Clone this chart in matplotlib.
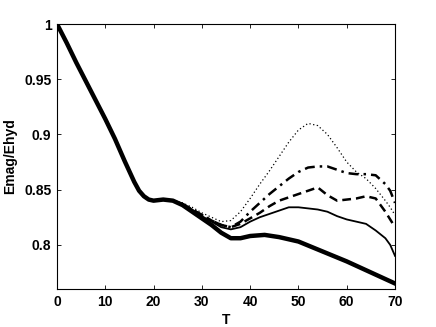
import numpy as np
import matplotlib
matplotlib.use("Agg")
import matplotlib.pyplot as plt

plt.rcParams['font.family'] = ['Liberation Sans', 'DejaVu Sans']
plt.rcParams['font.weight'] = 'bold'

# partie commune (toutes les courbes confondues avant T~25)
t_common = [0, 2, 4, 6, 8, 10, 12, 14, 16, 17, 18, 19, 20, 22, 24]
e_common = [1.0, 0.983, 0.965, 0.948, 0.931, 0.914, 0.896, 0.876, 0.857, 0.849,
            0.844, 0.841, 0.840, 0.841, 0.840]

# courbe epaisse
t_thick = [26, 28, 30, 32, 34, 36, 38, 40, 43, 46, 50, 55, 60, 65, 70]
e_thick = [0.836, 0.830, 0.824, 0.818, 0.811, 0.806, 0.806, 0.808, 0.809, 0.807,
           0.803, 0.794, 0.785, 0.775, 0.765]

t_tail = [26, 28, 30, 32, 34, 36, 38, 40, 42, 44, 46, 48, 50, 52, 54, 56, 58,
          60, 62, 64, 66, 68, 69, 70]
e_solid = [0.837, 0.832, 0.826, 0.821, 0.816, 0.814, 0.816, 0.821, 0.825, 0.828,
           0.831, 0.834, 0.834, 0.833, 0.832, 0.830, 0.826, 0.823, 0.821, 0.819,
           0.813, 0.806, 0.800, 0.790]
e_dashed = [0.837, 0.832, 0.827, 0.822, 0.818, 0.816, 0.819, 0.824, 0.829, 0.835,
            0.840, 0.843, 0.846, 0.849, 0.852, 0.845, 0.840, 0.841, 0.842, 0.844,
            0.842, 0.830, 0.823, 0.816]
e_dashdot = [0.837, 0.832, 0.827, 0.822, 0.818, 0.816, 0.821, 0.830, 0.838, 0.846,
             0.853, 0.860, 0.866, 0.870, 0.871, 0.871, 0.868, 0.865, 0.864, 0.864,
             0.863, 0.855, 0.849, 0.838]
e_dotted = [0.838, 0.834, 0.829, 0.825, 0.821, 0.822, 0.830, 0.842, 0.855, 0.867,
            0.880, 0.893, 0.904, 0.910, 0.908, 0.900, 0.888, 0.875, 0.866, 0.860,
            0.851, 0.840, 0.834, 0.827]

fig = plt.figure(figsize=(4.36, 3.27), dpi=100)
ax = fig.add_axes([0.1307, 0.1162, 0.7753, 0.8104])

ax.plot(t_common + t_tail, e_common + e_dotted, color='black', lw=0.9, ls=(0, (1, 2)))
ax.plot(t_common + t_tail, e_common + e_dashdot, color='black', lw=1.8, ls=(0, (4, 2, 1, 2)))
ax.plot(t_common + t_tail, e_common + e_dashed, color='black', lw=1.8, ls=(0, (3.5, 2)))
ax.plot(t_common + t_tail, e_common + e_solid, color='black', lw=1.3, ls='-')
ax.plot(t_common + t_thick, e_common + e_thick, color='black', lw=3.2, ls='-')

ax.set_xlim(0, 70)
ax.set_ylim(0.76, 1.0)
ax.set_xticks(np.arange(0, 71, 10))
ax.set_yticks([0.8, 0.85, 0.9, 0.95, 1.0])
ax.set_yticklabels(['0.8', '0.85', '0.9', '0.95', '1'])
ax.tick_params(direction='in', length=3, width=0.6, top=True, right=True,
               labelsize=10, pad=4)
for s in ax.spines.values():
    s.set_linewidth(0.8)
ax.set_xlabel('T', fontsize=10, fontweight='bold', labelpad=3)
ax.set_ylabel('Emag/Ehyd', fontsize=10, fontweight='bold', labelpad=5)

fig.savefig('out.png', dpi=100)
